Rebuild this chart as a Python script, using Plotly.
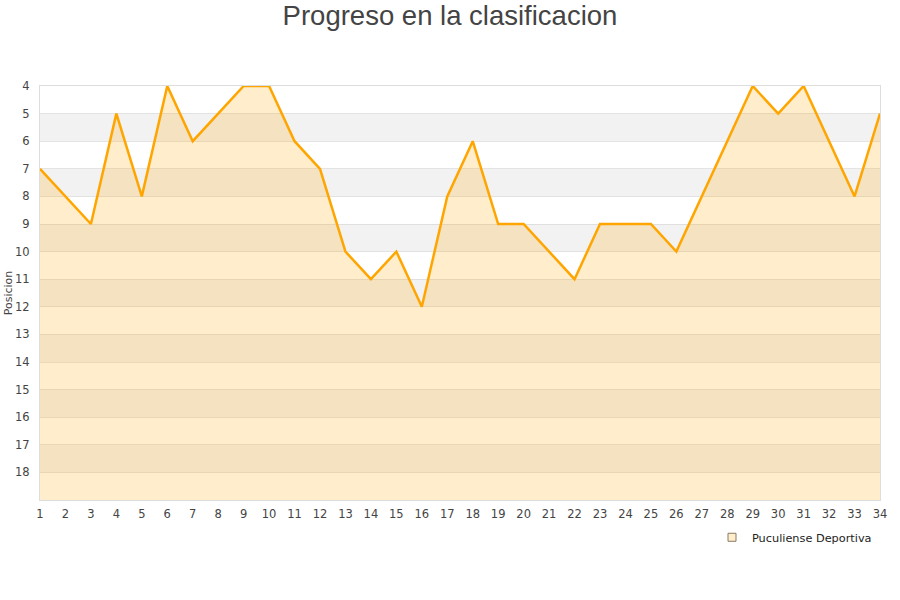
import plotly.graph_objects as go

# datos de la clasificacion por jornada
jornadas = list(range(1, 35))
posiciones = [7, 8, 9, 5, 8, 4, 6, 5, 4, 4, 6, 7, 10, 11, 10, 12, 8, 6, 9, 9,
              10, 11, 9, 9, 9, 10, 8, 6, 4, 5, 4, 6, 8, 5]
equipo = 'Puculiense Deportiva'
fondo = 19  # ultima posicion visible (borde inferior)

fig = go.Figure()

# franjas grises alternas
for p in range(5, 19, 2):
    fig.add_shape(type='rect', xref='paper', x0=0, x1=1, y0=p, y1=p + 1,
                  fillcolor='#f2f2f2', line_width=0, layer='below')

# linea base para el relleno
fig.add_trace(go.Scatter(
    x=jornadas, y=[fondo] * len(jornadas), mode='lines',
    line=dict(width=0), showlegend=False, hoverinfo='skip',
))

fig.add_trace(go.Scatter(
    x=jornadas, y=posiciones, mode='lines', name=equipo,
    line=dict(color='#FFA500', width=2.5),
    fill='tonexty', fillcolor='rgba(255,165,0,0.2)', showlegend=False,
))

# solo para la leyenda (cuadrado)
fig.add_trace(go.Scatter(
    x=[None], y=[None], mode='markers', name=equipo,
    marker=dict(symbol='square', size=8, color='#FFEDCC',
                line=dict(color='#8a7a60', width=1)),
))

fig.update_xaxes(
    range=[1, 34], tickmode='array', tickvals=jornadas, automargin=False,
    showgrid=False, zeroline=False, showline=True, linecolor='#dddddd',
    mirror=True, ticks='', ticklabelstandoff=3,
    tickfont=dict(size=11.5, color='#444'),
)
fig.update_yaxes(
    range=[fondo, 4], tickmode='array', tickvals=list(range(4, 19)),
    automargin=False, ticklabelstandoff=7,
    showgrid=True, gridcolor='rgba(200,200,200,0.45)', zeroline=False,
    showline=True, linecolor='#dddddd', mirror=True, ticks='',
    tickfont=dict(size=11.5, color='#444'),
    title=dict(text='Posicion', font=dict(size=11, color='#444'), standoff=0),
)

fig.update_layout(
    width=900, height=600,
    title=dict(text='Progreso en la clasificacion', x=0.5, xanchor='center',
               y=0.99, yanchor='top',
               font=dict(family='Liberation Sans, Arial', size=27.5, color='#444')),
    font=dict(family='DejaVu Sans'),
    plot_bgcolor='white', paper_bgcolor='white',
    margin=dict(l=40, r=20, t=86, b=100),
    showlegend=True,
    legend=dict(x=0.8, y=-0.055, xanchor='left', yanchor='top',
                font=dict(size=11.3, color='#222'), bgcolor='rgba(0,0,0,0)'),
)

fig.write_html("out.html", config={'displayModeBar': False},
               post_script="document.body.style.margin='0';")
